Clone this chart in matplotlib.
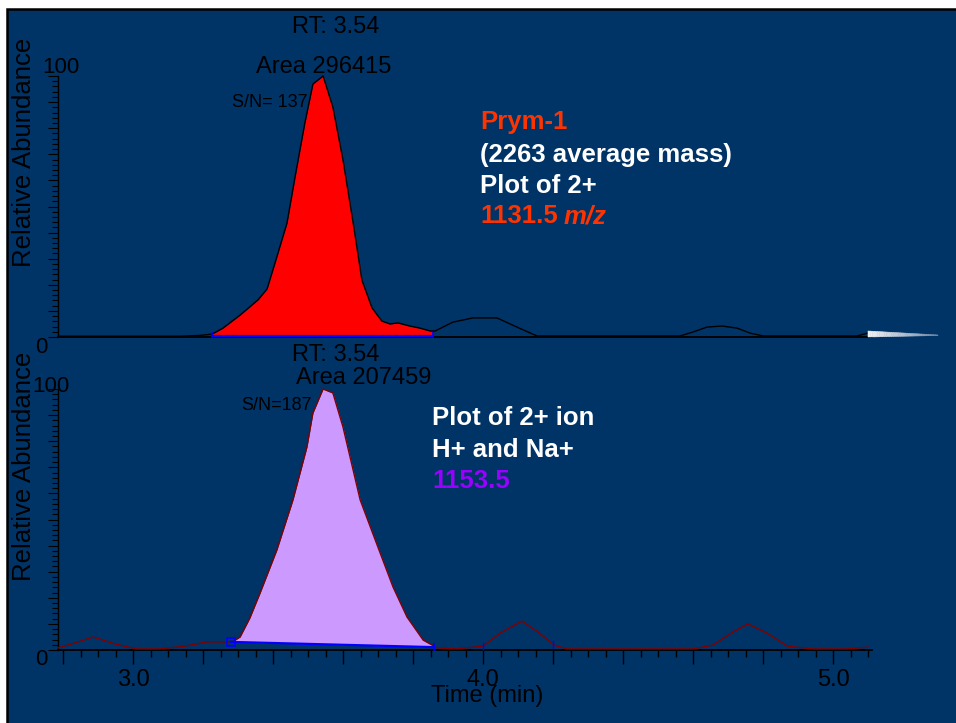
import numpy as np
import matplotlib
matplotlib.use('Agg')
import matplotlib.pyplot as plt
from matplotlib.patches import Rectangle, Polygon
from matplotlib.ticker import MultipleLocator

plt.rcParams['font.family'] = ['Liberation Sans', 'DejaVu Sans']

# ---------------- data ----------------
top_time = np.array([2.786, 3.134, 3.191, 3.226, 3.257, 3.306, 3.357, 3.383, 3.411, 3.44,
                     3.463, 3.491, 3.514, 3.543, 3.571, 3.6, 3.629, 3.654, 3.683, 3.711,
                     3.734, 3.757, 3.791, 3.82, 3.849, 3.863, 3.914, 3.971, 4.04, 4.097,
                     4.154, 4.563, 4.6, 4.64, 4.683, 4.726, 4.763, 4.8, 5.069, 5.1])
top_abund = np.array([0.3, 0.3, 0.6, 1.1, 3.4, 8.4, 14.2, 18.4, 30.7, 43.7,
                      61.3, 82.0, 96.9, 100.0, 88.1, 67.8, 43.7, 21.8, 11.1, 6.1,
                      5.0, 5.4, 4.2, 3.4, 2.3, 2.3, 5.7, 7.3, 7.3, 3.8,
                      0.4, 0.4, 1.9, 3.8, 4.2, 3.4, 1.5, 0.4, 0.4, 1.5])

bot_time = np.array([2.786, 2.834, 2.886, 2.949, 3.011, 3.077, 3.149, 3.211, 3.269, 3.286,
                     3.306, 3.334, 3.363, 3.411, 3.457, 3.497, 3.514, 3.543, 3.571, 3.6,
                     3.649, 3.706, 3.743, 3.783, 3.829, 3.869, 3.926, 4.0, 4.049, 4.111,
                     4.157, 4.203, 4.24, 4.6, 4.657, 4.714, 4.757, 4.811, 4.869, 4.943,
                     5.04, 5.1])
bot_abund = np.array([0.8, 2.7, 5.0, 2.3, 0.4, 0.4, 1.5, 3.1, 3.1, 3.3,
                      5.0, 12.3, 21.8, 38.3, 57.5, 77.8, 90.8, 100.0, 98.5, 85.4,
                      57.5, 37.2, 24.1, 12.6, 3.8, 0.8, 0.4, 1.5, 6.5, 11.1,
                      6.9, 1.9, 0.4, 0.4, 1.9, 6.9, 10.0, 6.5, 1.5, 0.4,
                      0.4, 1.1])

top_peak_range = [3.226, 3.857]
top_peak_base = [0.3, 0.3]
bot_peak_range = [3.28, 3.86]
bot_peak_base = [3.1, 1.1]
bot_extra_marks = [4.0, 4.2]

x_limits = [2.7857, 5.1114]
x_major_ticks = np.round(np.arange(2.8, 5.11, 0.2), 2)
x_labeled = {3.0: '3.0', 4.0: '4.0', 5.0: '5.0'}
y_tick_labels = ['0', '100']

top_labels = ['RT: 3.54', 'Area 296415', 'S/N= 137']
bot_labels = ['RT: 3.54', 'Area 207459', 'S/N=187']
top_notes = ['Prym-1', '(2263 average mass)', 'Plot of 2+', '1131.5', 'm/z']
bot_notes = ['Plot of 2+ ion', 'H+ and Na+', '1153.5']

# ---------------- style ----------------
W, H = 956, 723
BG = '#003366'
ORANGE = '#FF3300'
PURPLE = '#9900FF'

fig = plt.figure(figsize=(W / 100, H / 100), dpi=100)
fig.patch.set_facecolor('white')
fig.patches.append(Rectangle((7 / W, -0.02), 1.0, 1.02 - 9 / H, transform=fig.transFigure,
                             facecolor=BG, edgecolor='black', lw=1.8, zorder=-10))


def fx(x):
    return x / W


def fy(y):
    return 1 - y / H


def T(x, y, s, **kw):
    kw.setdefault('va', 'baseline')
    return fig.text(fx(x), fy(y), s, **kw)


ax_top = fig.add_axes([fx(58), fy(337), 814 / W, 261 / H])
ax_bot = fig.add_axes([fx(58), fy(650), 814 / W, 261 / H])

for ax in (ax_top, ax_bot):
    ax.set_facecolor('none')
    ax.set_xlim(x_limits)
    ax.set_ylim(0, 100)
    for s in ('top', 'right'):
        ax.spines[s].set_visible(False)
    ax.spines['left'].set_color('black')
    ax.spines['left'].set_linewidth(1.0)
    ax.spines['bottom'].set_color('black')
    ax.spines['bottom'].set_linewidth(1.3)
    ax.yaxis.set_major_locator(MultipleLocator(10))
    ax.yaxis.set_minor_locator(MultipleLocator(2))
    ax.tick_params(axis='y', which='major', length=7, width=0.8, color='black', labelleft=False)
    ax.tick_params(axis='y', which='minor', length=4, width=0.8, color='black')

ax_top.tick_params(axis='x', which='both', length=0, labelbottom=False)

ax_bot.set_xticks(x_major_ticks)
ax_bot.set_xticklabels([x_labeled.get(round(v, 1), '') for v in x_major_ticks])
ax_bot.xaxis.set_minor_locator(MultipleLocator(0.05))
ax_bot.tick_params(axis='x', which='major', length=10, width=1.0, color='black', pad=4,
                   labelsize=17, labelcolor='black')
ax_bot.tick_params(axis='x', which='minor', length=5, width=1.0, color='black')

# ---------------- top trace ----------------
t0, t1 = top_peak_range
m = (top_time > t0) & (top_time < t1)
xs = np.concatenate([[t0], top_time[m], [t1]])
ys = np.interp(xs, top_time, top_abund)
base = np.interp(xs, top_peak_range, top_peak_base)
ax_top.fill_between(xs, base, ys, color='#FF0000', lw=0, zorder=2)
ax_top.plot(top_time, top_abund, color='black', lw=1.0, zorder=3, clip_on=False)
ax_top.plot(top_peak_range, top_peak_base, color='#0000FF', lw=1.6, zorder=4)
ax_top.plot(top_peak_range, top_peak_base, '|', color='#0000FF', ms=6, mew=1.2, zorder=4)

# ---------------- bottom trace ----------------
t0, t1 = bot_peak_range
m = (bot_time > t0) & (bot_time < t1)
xs = np.concatenate([[t0], bot_time[m], [t1]])
ys = np.interp(xs, bot_time, bot_abund)
base = np.interp(xs, bot_peak_range, bot_peak_base)
ax_bot.fill_between(xs, base, ys, color='#CC99FF', lw=0, zorder=2)
ax_bot.plot(bot_time, bot_abund, color='#800000', lw=1.0, zorder=3, clip_on=False)
ax_bot.plot(bot_peak_range, bot_peak_base, color='#0000FF', lw=1.6, zorder=4)
ax_bot.plot([t0], [bot_peak_base[0]], 's', mfc='none', mec='#0000FF', ms=6, mew=1.2, zorder=5)
ax_bot.plot([t1], [bot_peak_base[1]], '|', color='#0000FF', ms=6, mew=1.2, zorder=5)
ax_bot.plot(bot_extra_marks, np.interp(bot_extra_marks, bot_time, bot_abund), '|',
            color='#0000FF', ms=6, mew=1.0, zorder=5)

# ---------------- wedge artifact at right of top panel ----------------
n = 30
xa, xb = 868, 938
for i in range(n):
    u0, u1 = i / n, (i + 1) / n
    xl, xr = xa + (xb - xa) * u0, xa + (xb - xa) * u1
    ytl, ytr = 331 + 4 * u0, 331 + 4 * u1
    ybl, ybr = 337 - 1.5 * u0, 337 - 1.5 * u1
    c = np.array([0.95, 0.95, 0.95]) * (1 - u0) + np.array([0.45, 0.55, 0.68]) * u0
    fig.patches.append(Polygon([(fx(xl), fy(ytl)), (fx(xr), fy(ytr)), (fx(xr), fy(ybr)),
                                (fx(xl), fy(ybl))], closed=True, transform=fig.transFigure,
                               facecolor=c, edgecolor=c, lw=0.4, zorder=5))

# ---------------- texts ----------------
# y tick labels
T(42, 73, y_tick_labels[1], fontsize=16, color='black')
T(35, 353, y_tick_labels[0], fontsize=16, color='black')
T(32, 392, y_tick_labels[1], fontsize=16, color='black')
T(35, 665, y_tick_labels[0], fontsize=16, color='black')

# axis labels
fig.text(fx(24), fy(152), 'Relative Abundance', rotation=90, ha='center', va='center',
         fontsize=18.5, color='black')
fig.text(fx(24), fy(466), 'Relative Abundance', rotation=90, ha='center', va='center',
         fontsize=18.5, color='black')
T(487, 702, 'Time (min)', ha='center', fontsize=17, color='black')

# peak labels
T(336, 33, top_labels[0], ha='center', fontsize=17, color='black')
T(323.5, 73, top_labels[1], ha='center', fontsize=17, color='black')
T(308, 107, top_labels[2], ha='right', fontsize=13, color='black')
T(336, 361, bot_labels[0], ha='center', fontsize=17, color='black')
T(364, 384, bot_labels[1], ha='center', fontsize=17, color='black')
T(312, 410, bot_labels[2], ha='right', fontsize=13, color='black')

# annotations
bold = dict(fontsize=18.5, fontweight='bold')
T(480, 129, top_notes[0], color=ORANGE, **bold)
T(480, 162, top_notes[1], color='white', **bold)
T(480, 193, top_notes[2], color='white', **bold)
t_mz = T(480, 223, top_notes[3], color=ORANGE, **bold)
fig.canvas.draw()
bb = t_mz.get_window_extent(renderer=fig.canvas.get_renderer())
fig.text((bb.x1 + 6) / W, fy(223), top_notes[4], color=ORANGE, fontstyle='italic',
         va='baseline', **bold)

T(432, 425, bot_notes[0], color='white', **bold)
T(432, 457, bot_notes[1], color='white', **bold)
T(432, 488, bot_notes[2], color=PURPLE, **bold)

fig.savefig('out.png', dpi=100, facecolor=fig.get_facecolor())
